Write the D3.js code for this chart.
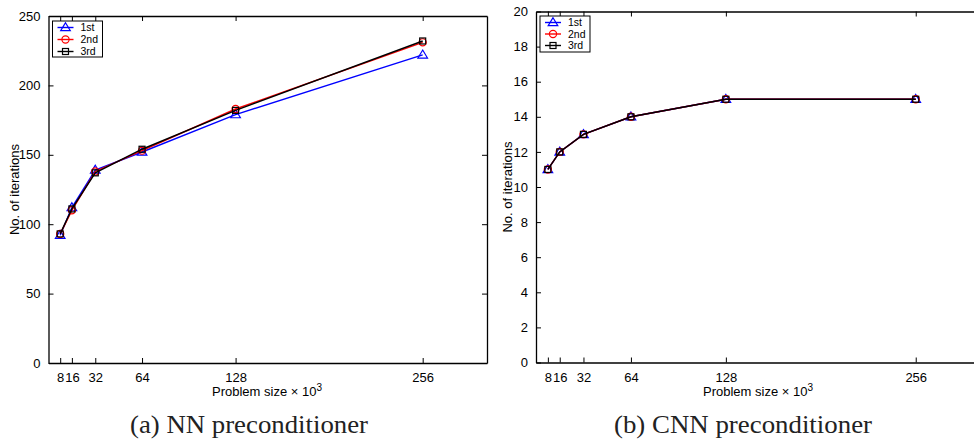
<!DOCTYPE html>
<html>
<head>
<meta charset="utf-8" />
<title>iterations</title>
<script src="https://cdn.jsdelivr.net/npm/d3@7"></script>
<style>
body{margin:0;background:#fff;}
svg{display:block;}
.tick text{font-family:"Liberation Sans",Arial,sans-serif;font-size:13px;fill:#000;}
</style>
</head>
<body>
<svg id="chart" width="974" height="441"></svg>
<script>
// problem sizes (x 10^3)
var sizes = [8, 16, 32, 64, 128, 256];
var seriesNames = ["1st", "2nd", "3rd"];
// NN preconditioner
var nn1st = [92, 112, 139, 152, 179, 222];
var nn2nd = [93, 110, 138, 153, 183, 231];
var nn3rd = [93, 111, 137, 154, 182, 232];
// CNN preconditioner
var cnn1st = [11, 12, 13, 14, 15, 15];
var cnn2nd = [11, 12, 13, 14, 15, 15];
var cnn3rd = [11, 12, 13, 14, 15, 15];
var nnTicks = [0, 50, 100, 150, 200, 250];
var cnnTicks = [0, 2, 4, 6, 8, 10, 12, 14, 16, 18, 20];

var colors = ["#0000ff", "#ff0000", "#000000"];
var markers = ["triangle", "circle", "square"];

var svg = d3.select("#chart");

function marker(g, type, x, y, color){
	if(type == "triangle"){
		g.append("path").attr("d", "M" + x + "," + (y - 4.8) + " L" + (x + 4.8) + "," + (y + 3.2) + " L" + (x - 4.8) + "," + (y + 3.2) + " Z")
			.attr("fill", "none").attr("stroke", color).attr("stroke-width", 1.2);
	}else if(type == "circle"){
		g.append("circle").attr("cx", x).attr("cy", y).attr("r", 3.6)
			.attr("fill", "none").attr("stroke", color).attr("stroke-width", 1.2);
	}else{
		g.append("rect").attr("x", x - 3).attr("y", y - 3).attr("width", 6).attr("height", 6)
			.attr("fill", "none").attr("stroke", color).attr("stroke-width", 1.2);
	}
}

function panel(p){
	var g = svg.append("g");
	var x = d3.scaleLinear().domain([0, 300]).range([p.left, p.right]);
	var y = d3.scaleLinear().domain([0, p.ymax]).range([p.bottom, p.top]);

	// axes, ticks pointing inward on all sides
	g.append("g").attr("transform", "translate(0," + p.bottom + ")")
		.call(d3.axisBottom(x).tickValues(sizes).tickSizeInner(-5).tickSizeOuter(0).tickPadding(10));
	g.append("g").attr("transform", "translate(0," + p.top + ")")
		.call(d3.axisTop(x).tickValues(sizes).tickSizeInner(-5).tickSizeOuter(0).tickFormat(""));
	g.append("g").attr("transform", "translate(" + p.left + ",0)")
		.call(d3.axisLeft(y).tickValues(p.yticks).tickSizeInner(-5).tickSizeOuter(0).tickPadding(8));
	g.append("g").attr("transform", "translate(" + p.right + ",0)")
		.call(d3.axisRight(y).tickValues(p.yticks).tickSizeInner(-5).tickSizeOuter(0).tickFormat(""));
	g.selectAll(".domain").attr("stroke", "#000").attr("stroke-width", 1.3);
	g.selectAll(".tick line").attr("stroke", "#000").attr("stroke-width", 1);

	// lines
	var line = d3.line().x(function(d, i){ return x(sizes[i]); }).y(function(d){ return y(d); });
	for(var s = 0; s < p.series.length; s++){
		var vals = p.series[s];
		g.append("path").attr("d", line(vals)).attr("fill", "none")
			.attr("stroke", colors[s]).attr("stroke-width", 1.4);
		for(var i = 0; i < vals.length; i++){
			marker(g, markers[s], x(sizes[i]), y(vals[i]), colors[s]);
		}
	}

	// legend
	var lg = g.append("g");
	lg.append("rect").attr("x", p.lx).attr("y", p.ly).attr("width", 50).attr("height", p.lh)
		.attr("fill", "#fff").attr("stroke", "#000").attr("stroke-width", 1);
	for(var k = 0; k < seriesNames.length; k++){
		var ry = p.ly + 6.5 + k * p.lstep;
		lg.append("line").attr("x1", p.lx + 5).attr("x2", p.lx + 21).attr("y1", ry).attr("y2", ry)
			.attr("stroke", colors[k]).attr("stroke-width", 1.4);
		marker(lg, markers[k], p.lx + 13, ry, colors[k]);
		lg.append("text").attr("x", p.lx + 28).attr("y", ry + 3.8).text(seriesNames[k])
			.style("font", "10.5px 'Liberation Sans', Arial, sans-serif").attr("fill", "#000");
	}

	// labels
	g.append("text").attr("x", p.xlabelX).attr("y", 396)
		.attr("text-anchor", "middle").style("font", "13px 'Liberation Sans', Arial, sans-serif")
		.html("Problem size <tspan>\u00d7</tspan> 10<tspan dy='-5' font-size='10px'>3</tspan>");
	g.append("text").attr("transform", "translate(" + p.ylabelX + "," + ((p.top + p.bottom) / 2) + ") rotate(-90)")
		.attr("text-anchor", "middle").style("font", "13px 'Liberation Sans', Arial, sans-serif")
		.text("No. of iterations");
	g.append("text").attr("x", p.capX).attr("y", 433).attr("text-anchor", "middle")
		.attr("textLength", p.capW).attr("lengthAdjust", "spacingAndGlyphs")
		.style("font", "26px 'Liberation Serif', 'DejaVu Serif', serif").attr("fill", "#222")
		.text(p.caption);
}

panel({left: 48.5, right: 487, top: 16, bottom: 363, ymax: 250, yticks: nnTicks,
	series: [nn1st, nn2nd, nn3rd], lx: 52.5, ly: 21, lh: 36, lstep: 12,
	xlabelX: 267, ylabelX: 19, capX: 249, capW: 238, caption: "(a) NN preconditioner"});
panel({left: 536, right: 981, top: 11.5, bottom: 362.5, ymax: 20, yticks: cnnTicks,
	series: [cnn1st, cnn2nd, cnn3rd], lx: 540, ly: 16, lh: 36, lstep: 11.5,
	xlabelX: 758, ylabelX: 512, capX: 743, capW: 258, caption: "(b) CNN preconditioner"});
</script>
</body>
</html>
